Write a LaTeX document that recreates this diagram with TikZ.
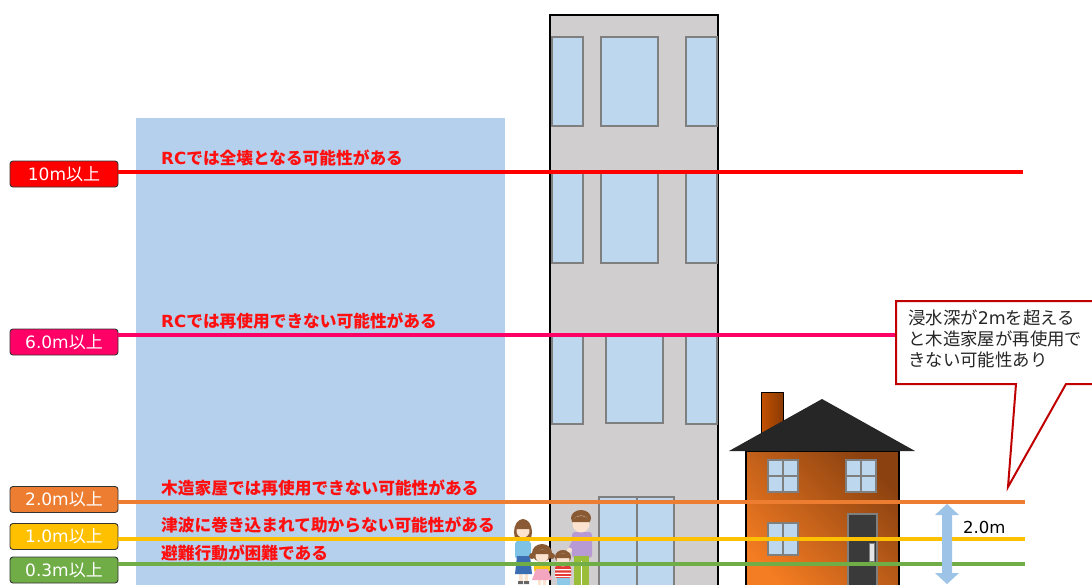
\documentclass[tikz,border=0pt]{standalone}
\usepackage{fontspec}
\setmainfont{Noto Sans CJK JP}
\newfontfamily\lat{DejaVu Sans}
\definecolor{zone}{HTML}{B4D0EC}
\definecolor{bldg}{HTML}{D0CECF}
\definecolor{winblue}{HTML}{BDD7EE}
\definecolor{frame}{HTML}{7F7F7F}
\definecolor{c10}{HTML}{FF0000}
\definecolor{c6}{HTML}{FF0066}
\definecolor{c2}{HTML}{ED7D31}
\definecolor{c1}{HTML}{FFC000}
\definecolor{c03}{HTML}{70AD47}
\definecolor{warn}{HTML}{FF1010}
\definecolor{calloutred}{HTML}{C00000}
\definecolor{arrowblue}{HTML}{9DC3E6}
\definecolor{roofc}{HTML}{262626}
\definecolor{wallA}{HTML}{F47C22}
\definecolor{wallB}{HTML}{8C4210}
\definecolor{chimA}{HTML}{C45200}
\definecolor{chimB}{HTML}{8A3A05}
\definecolor{doorc}{HTML}{3A3A3A}
\definecolor{skin}{HTML}{FCE3CF}
\definecolor{hair}{HTML}{8A5A35}
\definecolor{momshirt}{HTML}{7EC3E6}
\definecolor{momskirt}{HTML}{3B6DB3}
\definecolor{girlshirt}{HTML}{F5C518}
\definecolor{girlskirt}{HTML}{F4A6C0}
\definecolor{boyshirt}{HTML}{E53935}
\definecolor{boypants}{HTML}{8CC8E8}
\definecolor{dadshirt}{HTML}{B79AD4}
\definecolor{dadpants}{HTML}{9BBE3A}
\begin{document}
\begin{tikzpicture}[x=1pt,y=-1pt,
  win/.style={fill=winblue,draw=frame,line width=1.2pt},
  lvl/.style={draw=black!80,line width=0.9pt,rounded corners=3pt,
    minimum width=108pt,minimum height=26pt,inner sep=0pt,text=white,
    font=\fontsize{17}{17}\selectfont},
  level/.style={line width=3.5pt},
  warntext/.style={anchor=west,text=warn,inner sep=0pt,
    font=\fontsize{16.7}{16.7}\selectfont\bfseries}]
\useasboundingbox (0,0) rectangle (1092,584);
\clip (0,0) rectangle (1092,584);
\fill[white] (0,0) rectangle (1092,584);

% inundation zone
\fill[zone] (136,118) rectangle (505,590);

% RC building
\draw[fill=bldg,line width=1.2pt] (550,15) rectangle (718,592);
\foreach \y/\h in {37/126,173/263} {
  \draw[win] (552,\y) rectangle (583,\h);
  \draw[win] (601,\y) rectangle (658,\h);
  \draw[win] (686,\y) rectangle (717,\h);
}
\draw[win] (552,336) rectangle (583,424);
\draw[win] (606,336) rectangle (663,423);
\draw[win] (686,336) rectangle (717,424);
\draw[win] (599,497) rectangle (674,592);
\draw[draw=frame,line width=1.2pt] (637,497) -- (637,592);

% wooden house
\shade[left color=chimA,right color=chimB] (761,392) rectangle (783,440);
\draw[line width=1pt] (761,440) -- (761,392) -- (783,392) -- (783,440);
\shade[top color=wallB,bottom color=wallA,shading angle=-45] (746,451) rectangle (899,592);
\draw[line width=1.2pt] (746,592) -- (746,451) -- (899,451) -- (899,592);
\fill[roofc] (822,399) -- (729,451) -- (915,451) -- cycle;
\foreach \x/\y in {768/460,846/460,768/523} {
  \draw[win] (\x,\y) rectangle ++(30,32);
  \draw[draw=frame,line width=1.2pt] (\x+15,\y) -- ++(0,32) (\x,\y+16) -- ++(30,0);
}
\draw[fill=doorc,draw=frame,line width=1.2pt] (848,514) rectangle (877,592);
\draw[fill=black!10,draw=frame,line width=0.8pt] (869,543) rectangle (874,561);

% family: mother
\fill[hair] (523,532) ellipse (9 and 13);
\fill[skin] (519,573) rectangle (522.5,582) (524.5,573) rectangle (528,582);
\fill[black!60] (518,581) rectangle (523,584) (524,581) rectangle (529,584);
\fill[momshirt, rounded corners=3pt] (515,541) rectangle (531,559);
\fill[momskirt] (517,556) -- (530,556) -- (532,574) -- (515,574) -- cycle;
\fill[skin] (523,531) circle (6.5);
\fill[hair] (516.5,529) arc (180:360:6.5 and 5) -- cycle;
% girl
\fill[hair] (542,553) ellipse (10 and 9);
\fill[hair] (532,556) circle (3) (552,556) circle (3);
\fill[skin] (538,579) rectangle (541,586) (543,579) rectangle (546,586);
\fill[girlshirt, rounded corners=2pt] (534,562) rectangle (550,572);
\fill[girlskirt] (536,569) -- (548,569) -- (552,580) -- (532,580) -- cycle;
\fill[skin] (542,556) circle (6.5);
\fill[hair] (535.5,554) arc (180:360:6.5 and 4.5) -- cycle;
% boy
\fill[hair] (563,557) ellipse (8 and 7);
\fill[boyshirt, rounded corners=2pt] (555,566) rectangle (571,578);
\fill[white] (555,569) rectangle (571,570.3) (555,572.5) rectangle (571,573.8) (555,576) rectangle (571,577.2);
\fill[boypants] (556.5,578) rectangle (569.5,586);
\fill[skin] (563,560) circle (6.5);
\fill[hair] (556.5,558) arc (180:360:6.5 and 4.5) -- cycle;
% father
\fill[hair] (581,518) ellipse (10 and 8);
\fill[dadshirt, rounded corners=3pt] (572,532) rectangle (592,558);
\fill[dadshirt] (575,535) -- (568,549) -- (571.5,551) -- (579,539) -- cycle;
\fill[skin] (569.5,550) circle (2.5);
\fill[dadpants] (574,556) rectangle (589,586);
\draw[white,line width=0.8pt] (581.5,561) -- (581.5,586);
\fill[skin] (581,524) circle (8.5);
\fill[hair] (572.5,522) arc (180:360:8.5 and 6) -- cycle;

% level labels
\node[lvl,fill=c10] (l10) at (64,174) {{\lat 10m}以上};
\node[lvl,fill=c6]  (l6)  at (64,342) {{\lat 6.0m}以上};
\node[lvl,fill=c2]  (l2)  at (64,499.5) {{\lat 2.0m}以上};
\node[lvl,fill=c1]  (l1)  at (64,536.5) {{\lat 1.0m}以上};
\node[lvl,fill=c03] (l03) at (64,570) {{\lat 0.3m}以上};

% level lines
\coordinate (e10) at (1023,172);
\coordinate (e6)  at (1023,335);
\coordinate (e2)  at (1025,502);
\coordinate (e1)  at (1025,539);
\coordinate (e03) at (1025,564);
\draw[level,c10] (l10.east |- e10) -- (e10);
\draw[level,c6]  (l6.east |- e6) -- (e6);
\draw[level,c2]  (l2.east |- e2) -- (e2);
\draw[level,c1]  (l1.east |- e1) -- (e1);
\draw[level,c03] (l03.east |- e03) -- (e03);

% damage descriptions
\node[warntext] (t10) at (161,158) {{\lat\bfseries RC}では全壊となる可能性がある};
\node[warntext] (t6)  at (161,321) {{\lat\bfseries RC}では再使用できない可能性がある};
\node[warntext] (t2)  at (161,488) {木造家屋では再使用できない可能性がある};
\node[warntext] (t1)  at (161,525) {津波に巻き込まれて助からない可能性がある};
\node[warntext] (t03) at (161,553) {避難行動が困難である};

% speech bubble
\draw[fill=white,draw=calloutred,line width=2pt,line join=miter]
  (896,301) -- (1100,301) -- (1100,384) -- (1066,384) -- (1008,487) -- (1016,384) -- (896,384) -- cycle;
\node[anchor=north west,align=left,inner sep=0pt,text=black!85,
  font=\fontsize{17.4}{21}\selectfont] (note) at (908,310)
  {浸水深が{\lat 2m}を超える\\と木造家屋が再使用で\\きない可能性あり};

% depth arrow
\fill[arrowblue] (947,504) -- (959,515) -- (952,515) -- (952,573) -- (959,573)
  -- (947,584) -- (935,573) -- (942,573) -- (942,515) -- (935,515) -- cycle;
\node[anchor=west,inner sep=0pt,font=\fontsize{16.5}{16.5}\selectfont\lat] (depth) at (963,527) {2.0m};
\end{tikzpicture}
\end{document}
